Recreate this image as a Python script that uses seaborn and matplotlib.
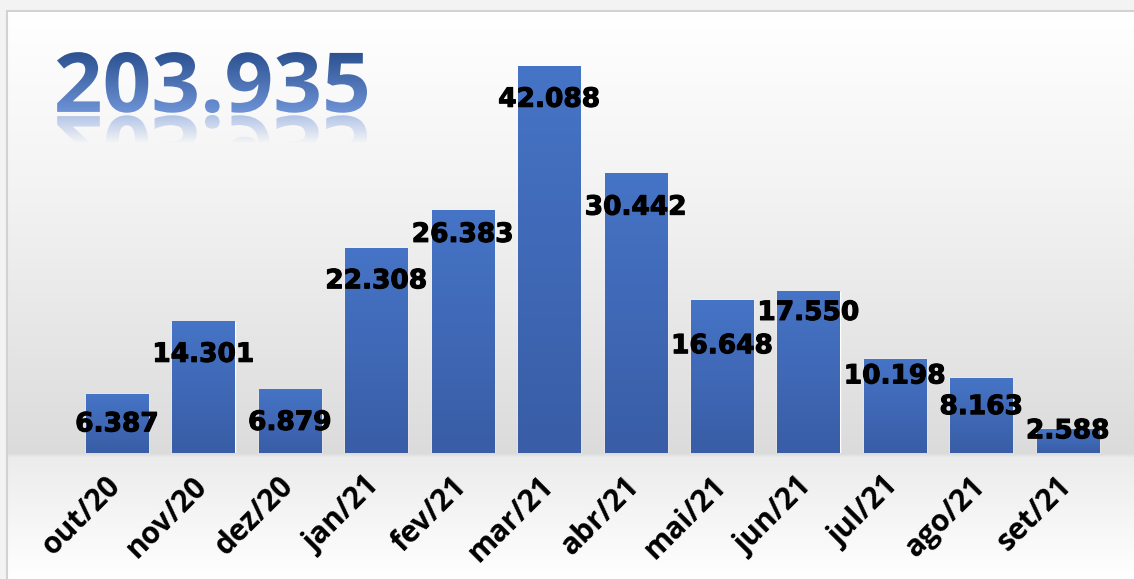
import numpy as np
import pandas as pd
import seaborn as sns
import matplotlib.pyplot as plt
import matplotlib.patheffects as pe
from matplotlib.colors import LinearSegmentedColormap, to_rgb
from matplotlib.patches import PathPatch, Rectangle
from matplotlib.textpath import TextPath
from matplotlib.font_manager import FontProperties
from matplotlib.transforms import Affine2D, ScaledTranslation

sns.set_style("white")

# monthly values
months = ["out/20", "nov/20", "dez/20", "jan/21", "fev/21", "mar/21",
          "abr/21", "mai/21", "jun/21", "jul/21", "ago/21", "set/21"]
cases = [6387, 14301, 6879, 22308, 26383, 42088,
         30442, 16648, 17550, 10198, 8163, 2588]
total_label = "203.935"

# data labels were nudged by hand in the original, pixels below bar top
label_drop = [30, 33, 33, 33, 24, 33, 34, 46, 21, 17, 29, 2]


def fmt(v):
    return f"{v:,}".replace(",", ".")


W, H = 1134, 579
fig = plt.figure(figsize=(W / 100, H / 100), dpi=100)

# background: white -> grey towards the floor, lighter below
bg = fig.add_axes([0, 0, 1, 1], zorder=0)
yy = np.arange(H)
lev = np.interp(yy, [0, 12, 200, 453, 457, 579], [1, 1, 0.95, 0.86, 0.925, 1.0])
bg.imshow(np.repeat(lev[:, None, None], 3, axis=2), extent=[0, W, H, 0], aspect="auto")
bg.add_patch(Rectangle((0, 0), W, 11, fc="#F3F3F3", ec="none"))
bg.add_patch(Rectangle((0, 0), 7, H, fc="#F3F3F3", ec="none"))
bg.plot([7, 7], [H, 11], color="#D2D2D2", lw=1.5)
bg.plot([7, W], [11, 11], color="#D2D2D2", lw=1.5)
bg.set_xlim(0, W)
bg.set_ylim(H, 0)
bg.axis("off")

# bars
ax = fig.add_axes([73.8 / W, 126 / H, (1111 - 73.8) / W, 413 / H], zorder=1)
df = pd.DataFrame({"mes": months, "casos": cases})
sns.barplot(data=df, x="mes", y="casos", color="#4472C4", saturation=1,
            width=0.72, ax=ax)

bar_cmap = LinearSegmentedColormap.from_list("bar", ["#395DA6", "#4674C6"])
grad = np.linspace(0, 1, 256).reshape(-1, 1)
for p in ax.patches:
    x, w, h = p.get_x(), p.get_width(), p.get_height()
    ax.imshow(grad, extent=[x, x + w, 0, h], origin="lower", cmap=bar_cmap,
              aspect="auto", zorder=p.get_zorder() + 0.1)

heavy = [pe.withStroke(linewidth=0.8, foreground="black")]
for i, (v, d) in enumerate(zip(cases, label_drop)):
    ax.annotate(fmt(v), xy=(i, v), xytext=(0, -d), textcoords="offset pixels",
                ha="center", va="center", fontsize=19, fontweight="bold",
                color="black", family="DejaVu Sans", zorder=5,
                path_effects=heavy)

ax.set_xlim(-0.5, 11.5)
ax.set_ylim(0, 45000)
ax.patch.set_alpha(0)
sns.despine(ax=ax, left=True, bottom=True)
ax.set_yticks([])
ax.set_xlabel("")
ax.set_ylabel("")
ax.set_xticks(range(len(months)))
ax.set_xticklabels(months, rotation=45, ha="right", fontsize=21.5,
                   fontweight="bold", family="Open Sans", color="black")
ax.tick_params(axis="x", length=0, pad=13)
shift = ScaledTranslation(0.10, 0, fig.dpi_scale_trans)
for lbl in ax.get_xticklabels():
    lbl.set_transform(lbl.get_transform() + shift)

# big total with gradient and reflection
ov = fig.add_axes([0, 0, 1, 1], zorder=3)
ov.patch.set_alpha(0)
fp = FontProperties(family="Open Sans", weight="bold")
tp = TextPath((0, 0), total_label, size=100, prop=fp)
ext = tp.get_extents()
x0, x1, top, base = 57, 367, 52, 113
sx = (x1 - x0) / ext.width
sy = (base - top) / ext.height

path = Affine2D().translate(-ext.x0, -ext.y0).scale(sx, -sy).translate(x0, base).transform_path(tp)
txt_patch = PathPatch(path, fc="none", ec="none")
ov.add_patch(txt_patch)
c_top, c_bot = np.array(to_rgb("#2C5191")), np.array(to_rgb("#6E93D6"))
tt = np.linspace(0, 1, 128)[:, None, None]
img = ov.imshow(c_top + (c_bot - c_top) * tt, extent=[x0, x1, base, top],
                origin="upper", aspect="auto")
img.set_clip_path(txt_patch)

rbase = base + 2
rpath = Affine2D().translate(-ext.x0, -ext.y0).scale(sx, sy).translate(x0, rbase).transform_path(tp)
ref_patch = PathPatch(rpath, fc="none", ec="none")
ov.add_patch(ref_patch)
rh = base - top
ry = np.arange(rh)
alpha = np.clip(0.55 * (1 - ry / 28.0), 0, None)
rgba = np.zeros((rh, 1, 4))
rgba[:, 0, :3] = to_rgb("#7A9BD8")
rgba[:, 0, 3] = alpha
rimg = ov.imshow(rgba, extent=[x0, x1, rbase + rh, rbase], origin="upper", aspect="auto")
rimg.set_clip_path(ref_patch)

ov.set_xlim(0, W)
ov.set_ylim(H, 0)
ov.axis("off")

fig.savefig("out.png", dpi=100)
